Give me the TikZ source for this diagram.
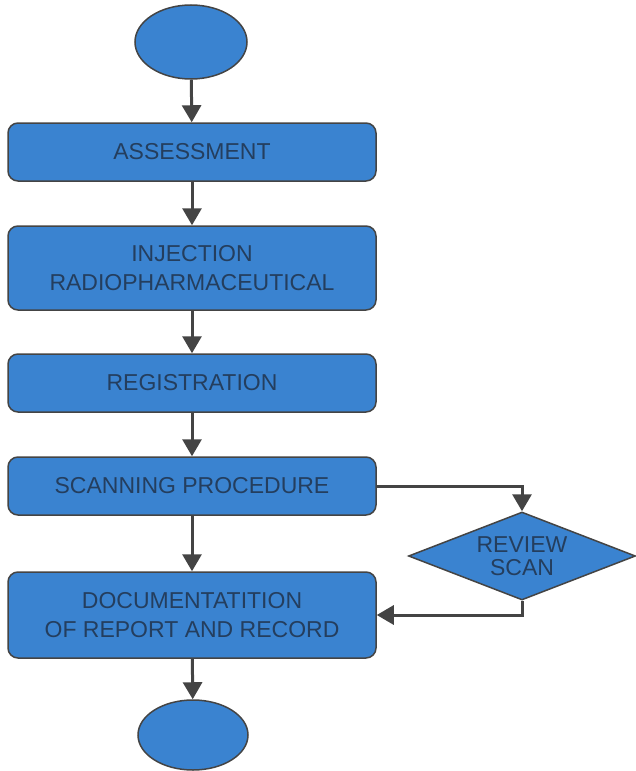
\documentclass[tikz,border=0pt]{standalone}
\usepackage{fontspec}
\setmainfont{Liberation Sans}
\usetikzlibrary{shapes.geometric,arrows.meta}
\definecolor{boxblue}{RGB}{58,131,208}
\definecolor{boxtext}{RGB}{36,62,94}
\definecolor{linegray}{RGB}{68,68,68}
\begin{document}
\begin{tikzpicture}[x=1pt,y=-1pt,
    stepbox/.style={draw=linegray,line width=1.5pt,fill=boxblue,rounded corners=10pt,
      minimum width=368pt,inner sep=0pt,align=center,text=boxtext,
      font=\fontsize{23}{28.5}\selectfont},
    terminal/.style={ellipse,draw=linegray,line width=1.5pt,fill=boxblue,inner sep=0pt},
    decision/.style={diamond,aspect=2.58,draw=linegray,line width=1.5pt,fill=boxblue,inner sep=0pt,
      minimum width=227pt,minimum height=88pt,align=center,text=boxtext,
      font=\fontsize{23}{23}\selectfont},
    flow/.style={draw=linegray,line width=3pt,-{Triangle[width=19pt,length=17pt]}}]
  \useasboundingbox (0,0) rectangle (635,771);
  \node[terminal,minimum width=112pt,minimum height=74pt] (start) at (191,42) {};
  \node[stepbox,minimum height=58pt] (assess) at (192,152) {ASSESSMENT};
  \node[stepbox,minimum height=84pt] (inject) at (192,268) {INJECTION\\RADIOPHARMACEUTICAL};
  \node[stepbox,minimum height=58pt] (regist) at (192,383) {REGISTRATION};
  \node[stepbox,minimum height=58pt] (scan) at (192,486) {SCANNING PROCEDURE};
  \node[decision] (review) at (522,556) {REVIEW\\SCAN};
  \node[stepbox,minimum height=86pt] (doc) at (192,615) {DOCUMENTATITION\\OF REPORT AND RECORD};
  \node[terminal,minimum width=110pt,minimum height=70pt] (stop) at (193,735) {};
  \begin{scope}[flow]
    \draw (start) to (assess);
    \draw (assess) to (inject);
    \draw (inject) to (regist);
    \draw (regist) to (scan);
    \draw (scan) to (doc);
    \draw (doc) to (stop);
    \draw (scan.east) -| (review.north);
    \draw (review.south) |- (doc.east);
  \end{scope}
\end{tikzpicture}
\end{document}
